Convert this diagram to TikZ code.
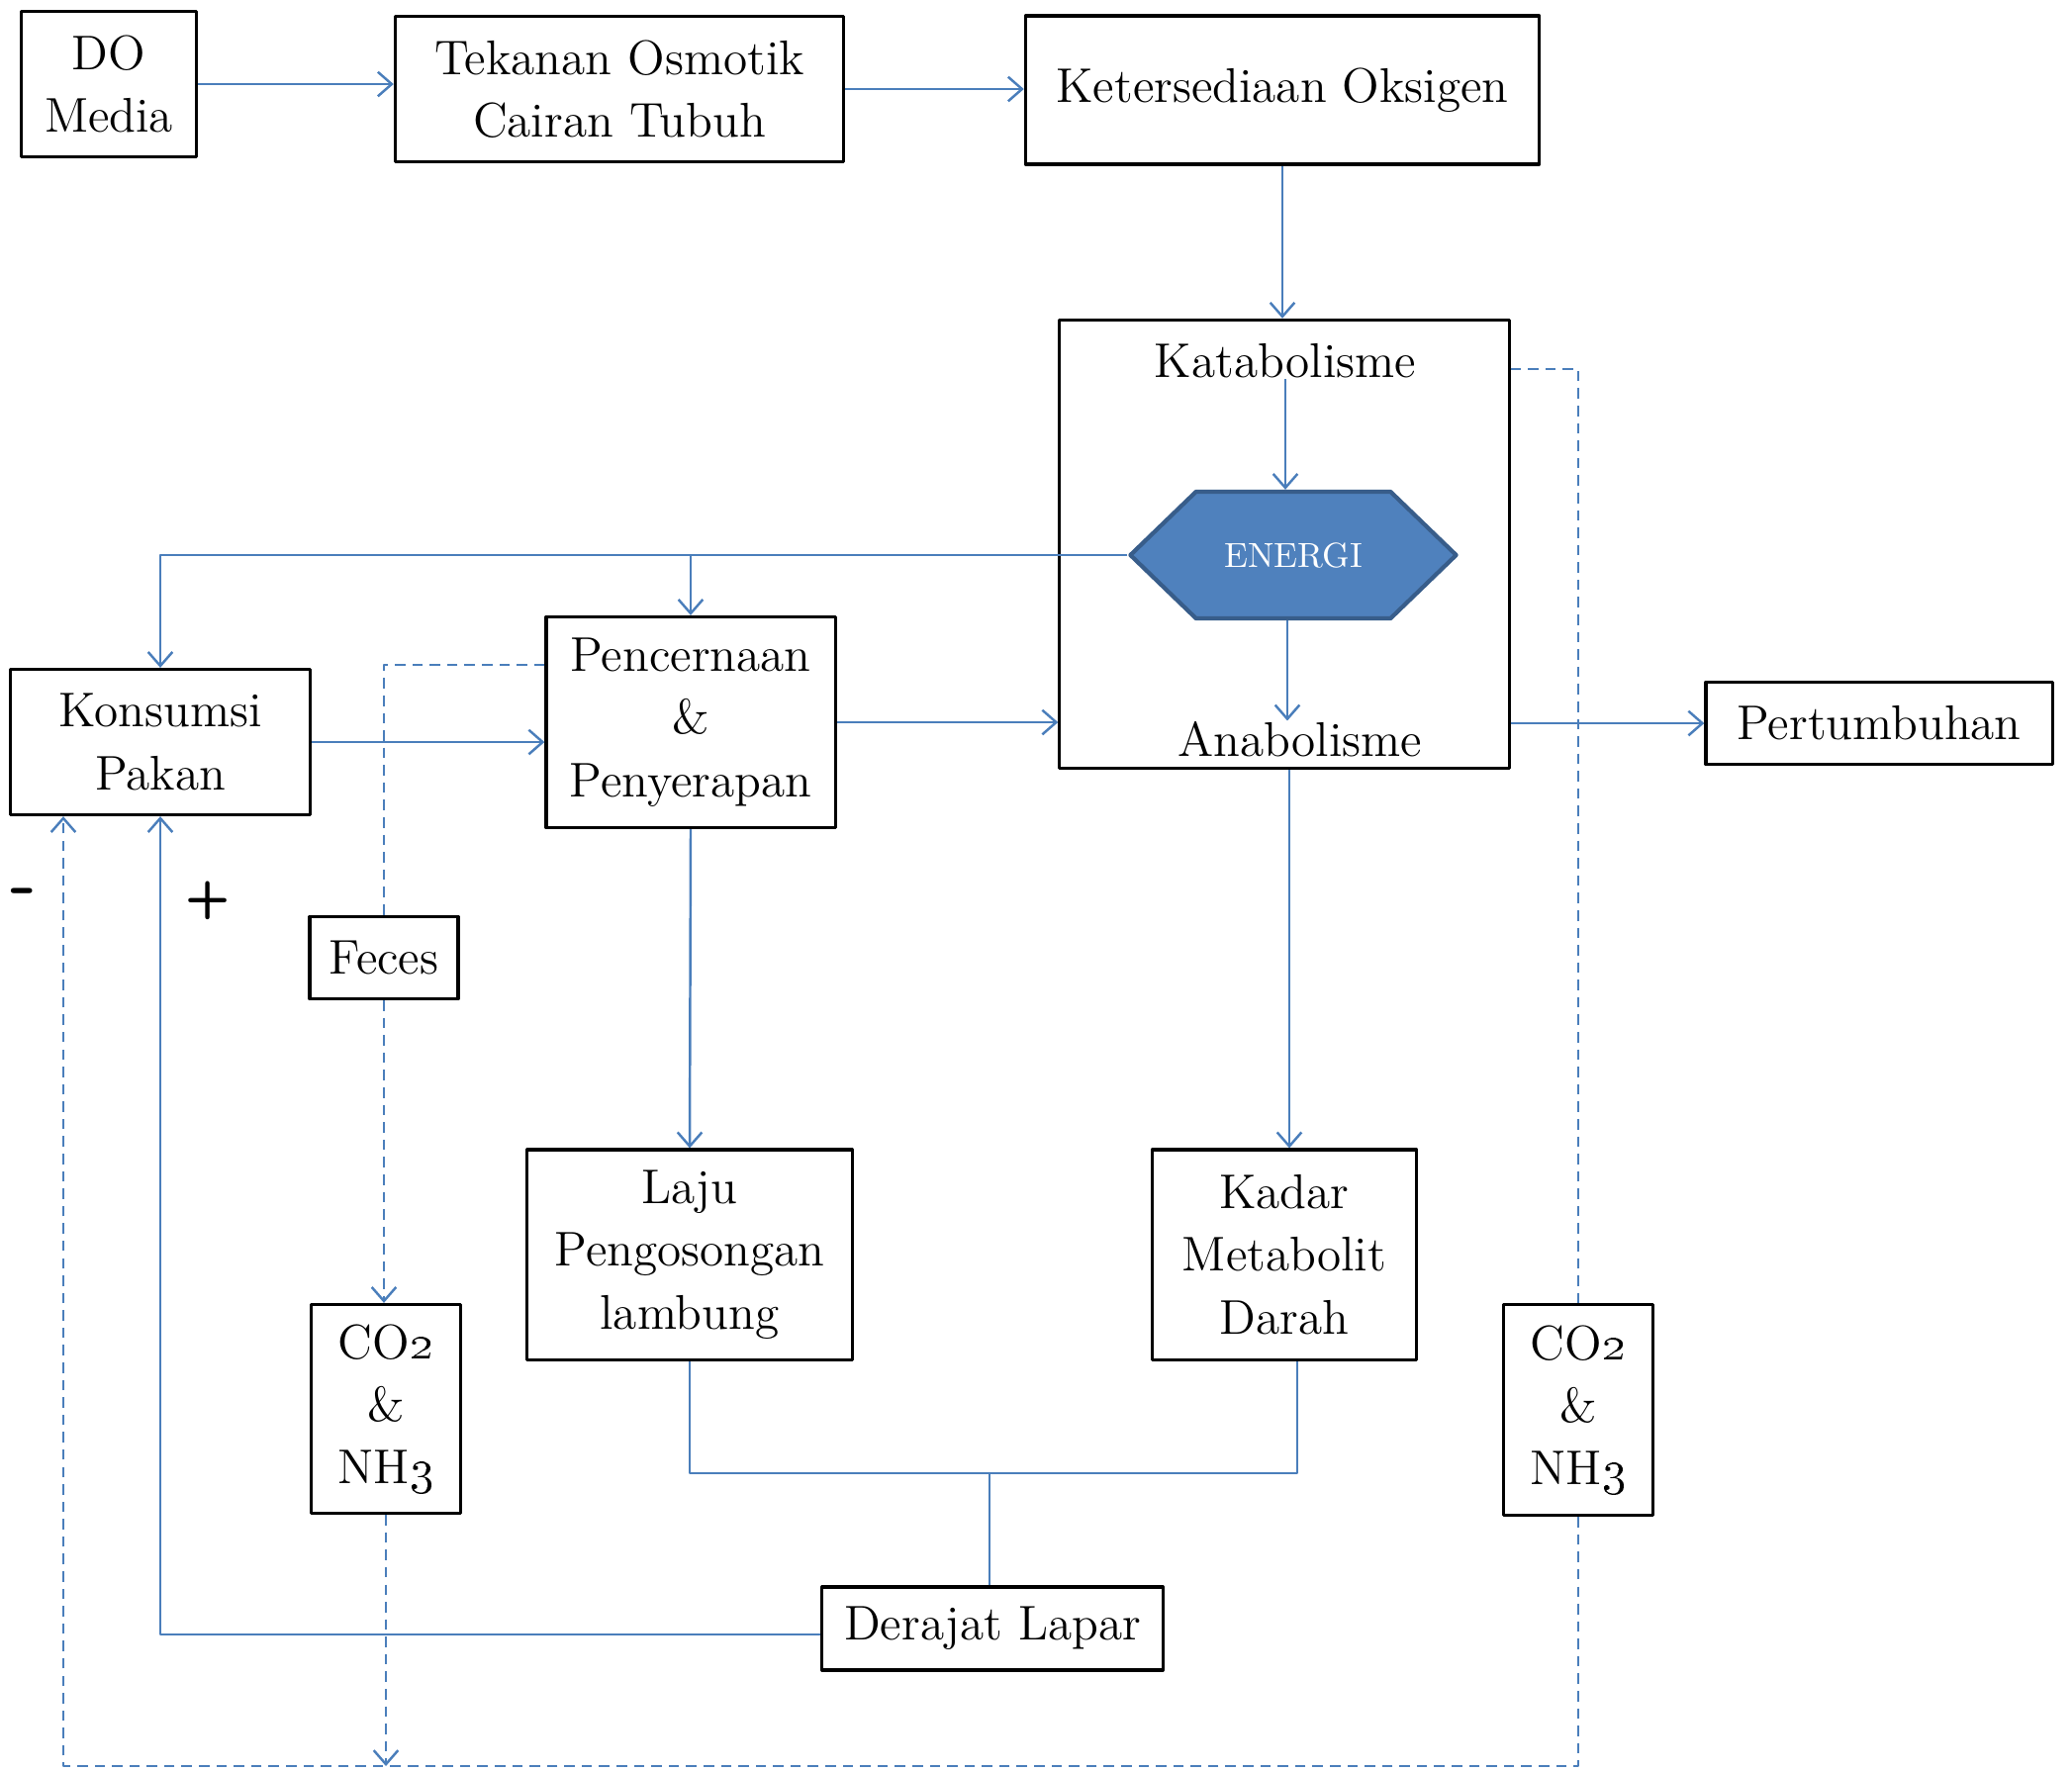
\documentclass[tikz,border=0pt]{standalone}
\usepackage{tikz}
\usetikzlibrary{arrows.meta,shapes.symbols}
\definecolor{linkblue}{HTML}{4A7EBB}
\definecolor{hexfill}{HTML}{4F81BD}
\definecolor{hexdraw}{HTML}{385D8A}
\begin{document}
\begin{tikzpicture}[x=0.01cm, y=-0.01cm, font=\fontsize{14}{18}\selectfont, line join=round, >={Straight Barb[length=4pt,width=7pt]},
	box/.style={draw, line width=0.9pt, align=center, inner sep=0pt},
	link/.style={draw=linkblue, line width=0.7pt},
	loss/.style={link, dash pattern=on 3pt off 2pt},
	hexa/.style={signal, signal to=east and west, signal pointer angle=88, minimum width=3.29cm, minimum height=1.28cm, inner sep=0pt, fill=hexfill, draw=hexdraw, line width=1.2pt, text=white, font=\fontsize{10}{12}\selectfont},
	sign/.style={font=\fontsize{15}{16}\sffamily\bfseries}]
	\useasboundingbox (0,0) rectangle (2094,1790);
	\foreach \n/\x/\y/\w/\h/\t in {do/110/85/1.77/1.47/{DO\\Media}, tek/626/90/4.53/1.47/{Tekanan Osmotik\\Cairan Tubuh}, oks/1296/91/5.19/1.50/{Ketersediaan Oksigen}, meta/1298/550/4.54/4.53/{}, kons/162/750/3.03/1.47/{Konsumsi\\Pakan}, pen/698/730/2.92/2.13/{Pencernaan\\\&\\Penyerapan}, pert/1899/731/3.50/0.83/{Pertumbuhan}, feces/388/968/1.50/0.83/{Feces}, laju/697/1268/3.28/2.12/{Laju\\Pengosongan\\lambung}, kadar/1298/1268/2.67/2.12/{Kadar\\Metabolit\\Darah}, gasL/390/1424/1.51/2.11/{CO\oldstylenums{2}\\\&\\NH\oldstylenums{3}}, gasR/1595/1425/1.51/2.13/{CO\oldstylenums{2}\\\&\\NH\oldstylenums{3}}, lapar/1003/1646/3.44/0.84/{Derajat Lapar}}
	\node[box, minimum width=\w cm, minimum height=\h cm] (\n) at (\x,\y) {\t};
	\node[inner sep=0pt] (kat) at (1299,365) {Katabolisme};
	\node[inner sep=0pt] (ana) at (1314,747) {Anabolisme};
	\node[hexa] (energi) at (1307,561) {ENERGI};
	\node[sign] (plus) at (210,910) {+};
	\node[sign, scale=1.4] (minus) at (24,908) {-};
	\coordinate (j) at (1000,1489);
	\coordinate (bl) at (64,1785);
	\draw[link,->] (do.east) -- (do.east -| tek.west);
	\draw[link,->] (tek.east) -- (tek.east -| oks.west);
	\draw[link,->] (oks.south) -- (oks.south |- meta.north);
	\draw[link,->] (kat.south) -- (kat.south |- energi.north);
	\draw[link,->] ([xshift=-0.06cm]energi.south) -- ([xshift=-0.06cm]energi.south |- ana.north);
	\draw[link,->] (energi.west) -| (kons.north);
	\draw[link,->] (energi.west -| pen.north) -- (pen.north);
	\draw[link,->] (kons.east) -- (kons.east -| pen.west);
	\draw[link,->] (pen.east) -- (pen.east -| meta.west);
	\draw[link,->] (pert.west -| meta.east) -- (pert.west);
	\draw[link,->] (pen.south) -- (laju.north);
	\draw[link,->] ([xshift=0.05cm]meta.south) -- ([xshift=0.05cm]kadar.north);
	\draw[link] (laju.south) |- (j) -| ([xshift=0.13cm]kadar.south);
	\draw[link] (j) -- (j |- lapar.north);
	\draw[link,->] ([yshift=-0.06cm]lapar.west) -| (kons.south);
	\draw[loss] ([yshift=-0.5cm]pen.north west) -| (feces.north);
	\draw[loss,->] (feces.south) -- (feces.south |- gasL.north);
	\draw[loss,->] (gasL.south) -- (gasL.south |- bl);
	\draw[loss] ([yshift=-0.51cm]meta.north east) -| (gasR.north);
	\draw[loss,->] (gasR.south) |- (bl) -- (bl |- kons.south);
\end{tikzpicture}
\end{document}
